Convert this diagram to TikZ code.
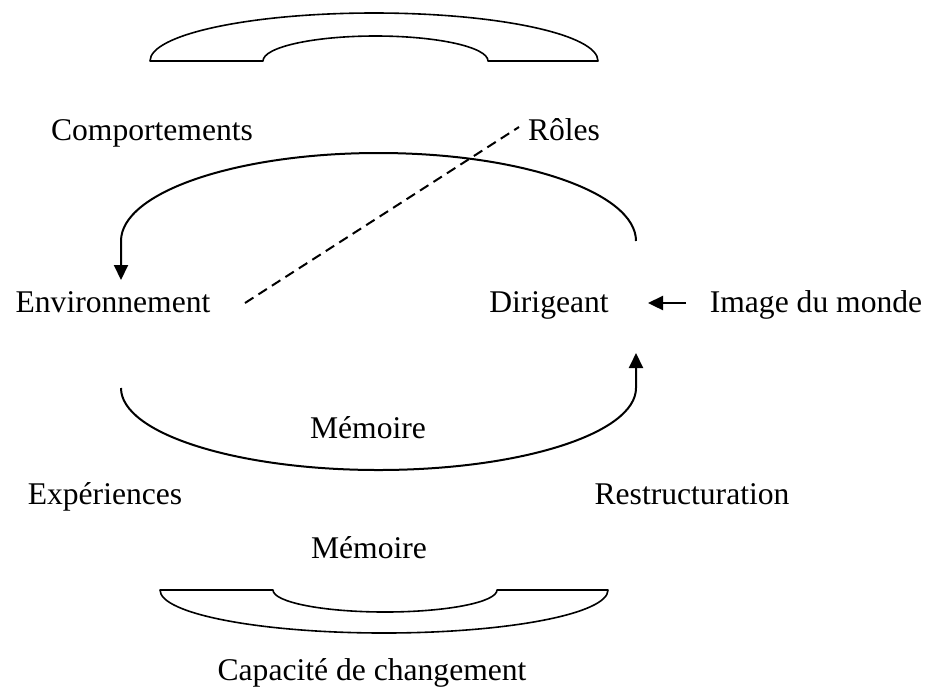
\documentclass[tikz,border=0pt]{standalone}
\usepackage{fontspec}
\setmainfont{Liberation Serif}
\usetikzlibrary{arrows.meta}
\begin{document}
\begin{tikzpicture}[x=0.5pt,y=-0.5pt,
  lbl/.style={anchor=base, inner sep=0pt, font=\fontsize{15.8}{18}\selectfont},
  shp/.style={line width=0.8pt, line join=round},
  arr/.style={line width=1pt, -{Triangle[length=7.5pt,width=7pt]}},
  dashln/.style={line width=1pt, dash pattern=on 5pt off 3pt}]
\useasboundingbox (0,0) rectangle (929,686);

% text nodes
\node[lbl] (comp) at (152,140) {Comportements};
\node[lbl] (roles) at (564,140) {Rôles};
\node[lbl] (env) at (113,312) {Environnement};
\node[lbl] (dir) at (549,312) {Dirigeant};
\node[lbl] (imd) at (816,312) {Image du monde};
\node[lbl] (mem1) at (368,438) {Mémoire};
\node[lbl] (exp) at (105,504) {Expériences};
\node[lbl] (restr) at (692,504) {Restructuration};
\node[lbl] (mem2) at (369,558) {Mémoire};
\node[lbl] (cap) at (372,680) {Capacité de changement};

% top receiver shape
\draw[shp] (150,61) arc[start angle=180, end angle=360, x radius=224, y radius=48]
  -- (488,61) arc[start angle=0, end angle=-180, x radius=112.5, y radius=25] -- cycle;

% bottom receiver shape
\draw[shp] (160,590) arc[start angle=180, end angle=0, x radius=224, y radius=43]
  -- (497,590) arc[start angle=0, end angle=180, x radius=112, y radius=22] -- cycle;

% loop coordinates
\coordinate (upR) at (636,241);
\coordinate (envTip) at (121,280);
\coordinate (loL) at (121,388);
\coordinate (dirTip) at (636,353);

% upper loop: Dirigeant -> Environnement
\draw[arr] (upR) arc[start angle=0, end angle=-180, x radius=257.5, y radius=88] -- (envTip);
% lower loop: Environnement -> Dirigeant
\draw[arr] (loL) arc[start angle=180, end angle=0, x radius=257.5, y radius=82] -- (dirTip);

% dashed line between Environnement and Rôles
\coordinate (dA) at (245,303);
\coordinate (dB) at (519,127);
\draw[dashln] (dA) -- (dB);

% Image du monde -> Dirigeant
\coordinate (iA) at (686,303);
\coordinate (iB) at (648,303);
\draw[arr, line width=1.2pt] (iA) -- (iB);
\end{tikzpicture}
\end{document}
